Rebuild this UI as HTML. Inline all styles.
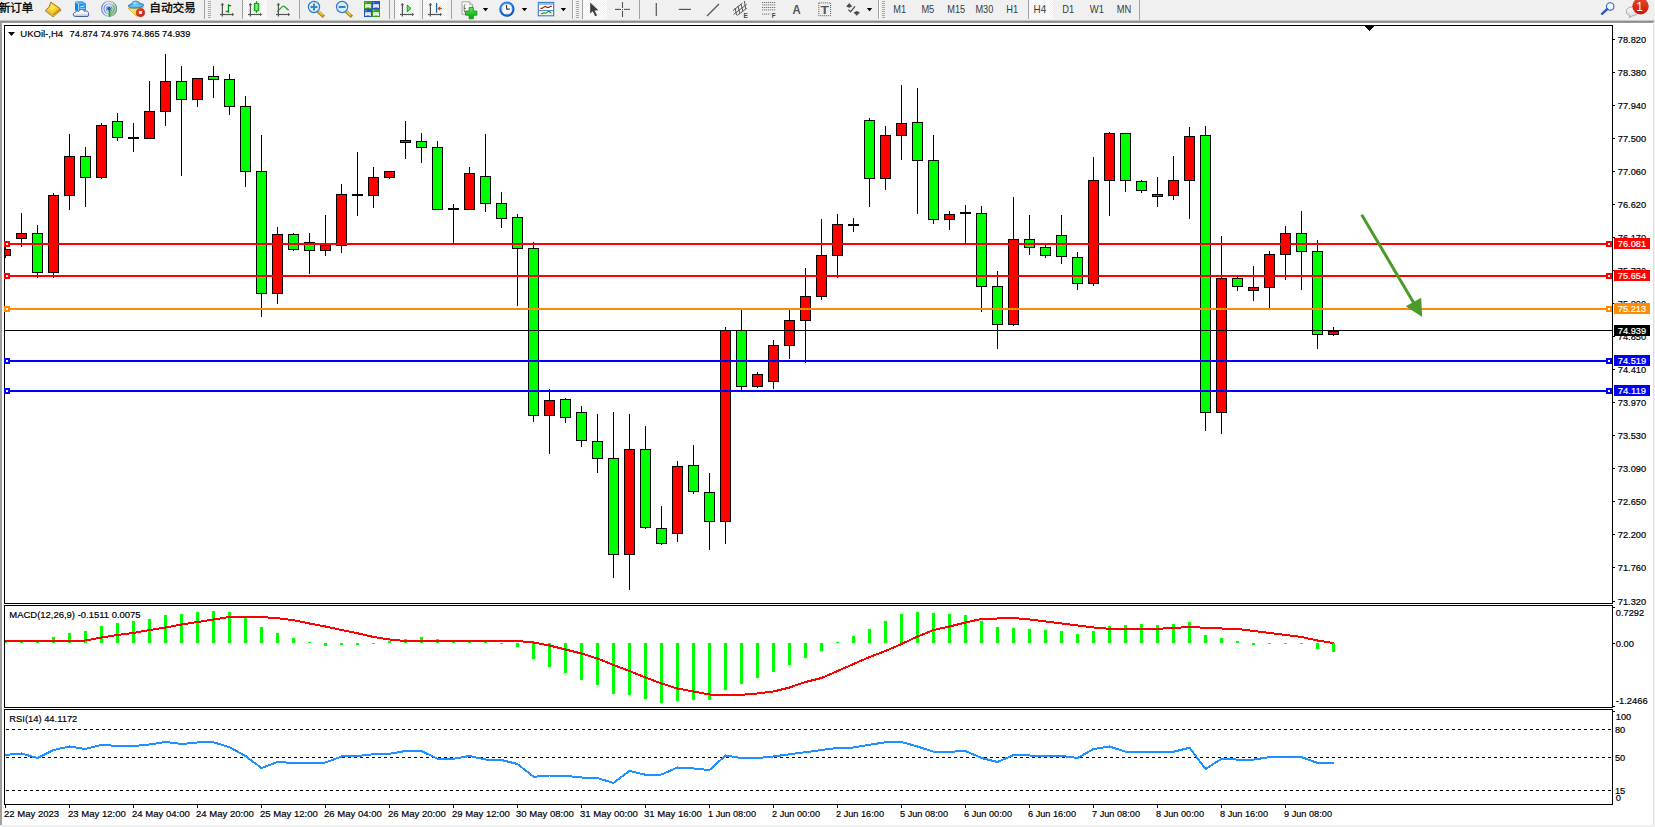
<!DOCTYPE html>
<html><head><meta charset="utf-8"><title>UKOil H4</title>
<style>html,body{margin:0;padding:0;background:#fff;overflow:hidden}svg{display:block}</style></head>
<body>
<svg width="1655" height="827" viewBox="0 0 1655 827" font-family="'Liberation Sans', 'Noto Sans CJK SC', sans-serif">
<rect x="0" y="0" width="1655" height="827" fill="#fff" />
<rect x="0" y="0" width="1655" height="20" fill="#f0f0f0" />
<rect x="0" y="20" width="1655" height="1" fill="#c6c6c6" />
<rect x="0" y="21" width="1655" height="1" fill="#8e8e8e" />
<rect x="0" y="22" width="1655" height="1" fill="#9a9a9a" />
<rect x="0" y="22" width="2" height="803" fill="#a0a0a0" />
<rect x="1653" y="22" width="1" height="803" fill="#dedede" />
<rect x="1654" y="20" width="1" height="805" fill="#f0f0f0" />
<rect x="0" y="825" width="1655" height="2" fill="#f0f0f0" />
<g shape-rendering="crispEdges">
<rect x="4" y="25" width="1609" height="1" fill="#000" />
<rect x="4" y="603" width="1609" height="1" fill="#000" />
<rect x="4" y="25" width="1" height="579" fill="#000" />
<rect x="1612" y="25" width="1" height="579" fill="#000" />
<rect x="4" y="605" width="1609" height="1" fill="#000" />
<rect x="4" y="707" width="1609" height="1" fill="#000" />
<rect x="4" y="605" width="1" height="103" fill="#000" />
<rect x="1612" y="605" width="1" height="103" fill="#000" />
<rect x="4" y="709" width="1609" height="1" fill="#000" />
<rect x="4" y="804" width="1609" height="1" fill="#000" />
<rect x="4" y="709" width="1" height="96" fill="#000" />
<rect x="1612" y="709" width="1" height="96" fill="#000" />
<rect x="5" y="247" width="1" height="11" fill="#000" />
<rect x="5" y="249" width="6" height="7" fill="#000" />
<rect x="5" y="250" width="5" height="5" fill="#ff0000" />
<rect x="21" y="213" width="1" height="34" fill="#000" />
<rect x="16" y="233" width="11" height="6" fill="#000" />
<rect x="17" y="234" width="9" height="4" fill="#ff0000" />
<rect x="37" y="225" width="1" height="53" fill="#000" />
<rect x="32" y="233" width="11" height="40" fill="#000" />
<rect x="33" y="234" width="9" height="38" fill="#00ff00" />
<rect x="53" y="193" width="1" height="85" fill="#000" />
<rect x="48" y="195" width="11" height="78" fill="#000" />
<rect x="49" y="196" width="9" height="76" fill="#ff0000" />
<rect x="69" y="134" width="1" height="76" fill="#000" />
<rect x="64" y="156" width="11" height="40" fill="#000" />
<rect x="65" y="157" width="9" height="38" fill="#ff0000" />
<rect x="85" y="147" width="1" height="60" fill="#000" />
<rect x="80" y="156" width="11" height="22" fill="#000" />
<rect x="81" y="157" width="9" height="20" fill="#00ff00" />
<rect x="101" y="123" width="1" height="56" fill="#000" />
<rect x="96" y="125" width="11" height="53" fill="#000" />
<rect x="97" y="126" width="9" height="51" fill="#ff0000" />
<rect x="117" y="113" width="1" height="28" fill="#000" />
<rect x="112" y="121" width="11" height="17" fill="#000" />
<rect x="113" y="122" width="9" height="15" fill="#00ff00" />
<rect x="133" y="123" width="1" height="29" fill="#000" />
<rect x="128" y="137" width="11" height="2" fill="#000" />
<rect x="149" y="81" width="1" height="58" fill="#000" />
<rect x="144" y="111" width="11" height="28" fill="#000" />
<rect x="145" y="112" width="9" height="26" fill="#ff0000" />
<rect x="165" y="54" width="1" height="72" fill="#000" />
<rect x="160" y="81" width="11" height="31" fill="#000" />
<rect x="161" y="82" width="9" height="29" fill="#ff0000" />
<rect x="181" y="66" width="1" height="110" fill="#000" />
<rect x="176" y="81" width="11" height="19" fill="#000" />
<rect x="177" y="82" width="9" height="17" fill="#00ff00" />
<rect x="197" y="78" width="1" height="29" fill="#000" />
<rect x="192" y="78" width="11" height="22" fill="#000" />
<rect x="193" y="79" width="9" height="20" fill="#ff0000" />
<rect x="213" y="66" width="1" height="32" fill="#000" />
<rect x="208" y="76" width="11" height="4" fill="#000" />
<rect x="209" y="77" width="9" height="2" fill="#00ff00" />
<rect x="229" y="74" width="1" height="41" fill="#000" />
<rect x="224" y="79" width="11" height="28" fill="#000" />
<rect x="225" y="80" width="9" height="26" fill="#00ff00" />
<rect x="245" y="96" width="1" height="91" fill="#000" />
<rect x="240" y="106" width="11" height="66" fill="#000" />
<rect x="241" y="107" width="9" height="64" fill="#00ff00" />
<rect x="261" y="135" width="1" height="182" fill="#000" />
<rect x="256" y="171" width="11" height="123" fill="#000" />
<rect x="257" y="172" width="9" height="121" fill="#00ff00" />
<rect x="277" y="227" width="1" height="77" fill="#000" />
<rect x="272" y="234" width="11" height="60" fill="#000" />
<rect x="273" y="235" width="9" height="58" fill="#ff0000" />
<rect x="293" y="233" width="1" height="18" fill="#000" />
<rect x="288" y="234" width="11" height="16" fill="#000" />
<rect x="289" y="235" width="9" height="14" fill="#00ff00" />
<rect x="309" y="233" width="1" height="41" fill="#000" />
<rect x="304" y="242" width="11" height="9" fill="#000" />
<rect x="305" y="243" width="9" height="7" fill="#00ff00" />
<rect x="325" y="215" width="1" height="41" fill="#000" />
<rect x="320" y="245" width="11" height="6" fill="#000" />
<rect x="321" y="246" width="9" height="4" fill="#ff0000" />
<rect x="341" y="184" width="1" height="69" fill="#000" />
<rect x="336" y="194" width="11" height="52" fill="#000" />
<rect x="337" y="195" width="9" height="50" fill="#ff0000" />
<rect x="357" y="152" width="1" height="64" fill="#000" />
<rect x="352" y="194" width="11" height="2" fill="#000" />
<rect x="373" y="167" width="1" height="41" fill="#000" />
<rect x="368" y="177" width="11" height="19" fill="#000" />
<rect x="369" y="178" width="9" height="17" fill="#ff0000" />
<rect x="389" y="171" width="1" height="8" fill="#000" />
<rect x="384" y="171" width="11" height="7" fill="#000" />
<rect x="385" y="172" width="9" height="5" fill="#ff0000" />
<rect x="405" y="121" width="1" height="38" fill="#000" />
<rect x="400" y="140" width="11" height="3" fill="#000" />
<rect x="401" y="141" width="9" height="1" fill="#ff0000" />
<rect x="421" y="133" width="1" height="30" fill="#000" />
<rect x="416" y="141" width="11" height="7" fill="#000" />
<rect x="417" y="142" width="9" height="5" fill="#00ff00" />
<rect x="437" y="141" width="1" height="69" fill="#000" />
<rect x="432" y="147" width="11" height="63" fill="#000" />
<rect x="433" y="148" width="9" height="61" fill="#00ff00" />
<rect x="453" y="204" width="1" height="40" fill="#000" />
<rect x="448" y="208" width="11" height="2" fill="#000" />
<rect x="469" y="167" width="1" height="43" fill="#000" />
<rect x="464" y="173" width="11" height="37" fill="#000" />
<rect x="465" y="174" width="9" height="35" fill="#ff0000" />
<rect x="485" y="134" width="1" height="78" fill="#000" />
<rect x="480" y="176" width="11" height="28" fill="#000" />
<rect x="481" y="177" width="9" height="26" fill="#00ff00" />
<rect x="501" y="192" width="1" height="36" fill="#000" />
<rect x="496" y="203" width="11" height="16" fill="#000" />
<rect x="497" y="204" width="9" height="14" fill="#00ff00" />
<rect x="517" y="214" width="1" height="92" fill="#000" />
<rect x="512" y="217" width="11" height="32" fill="#000" />
<rect x="513" y="218" width="9" height="30" fill="#00ff00" />
<rect x="533" y="242" width="1" height="180" fill="#000" />
<rect x="528" y="248" width="11" height="168" fill="#000" />
<rect x="529" y="249" width="9" height="166" fill="#00ff00" />
<rect x="549" y="389" width="1" height="65" fill="#000" />
<rect x="544" y="400" width="11" height="16" fill="#000" />
<rect x="545" y="401" width="9" height="14" fill="#ff0000" />
<rect x="565" y="398" width="1" height="25" fill="#000" />
<rect x="560" y="399" width="11" height="19" fill="#000" />
<rect x="561" y="400" width="9" height="17" fill="#00ff00" />
<rect x="581" y="406" width="1" height="41" fill="#000" />
<rect x="576" y="412" width="11" height="29" fill="#000" />
<rect x="577" y="413" width="9" height="27" fill="#00ff00" />
<rect x="597" y="414" width="1" height="59" fill="#000" />
<rect x="592" y="441" width="11" height="18" fill="#000" />
<rect x="593" y="442" width="9" height="16" fill="#00ff00" />
<rect x="613" y="412" width="1" height="166" fill="#000" />
<rect x="608" y="458" width="11" height="97" fill="#000" />
<rect x="609" y="459" width="9" height="95" fill="#00ff00" />
<rect x="629" y="414" width="1" height="176" fill="#000" />
<rect x="624" y="449" width="11" height="106" fill="#000" />
<rect x="625" y="450" width="9" height="104" fill="#ff0000" />
<rect x="645" y="426" width="1" height="103" fill="#000" />
<rect x="640" y="449" width="11" height="79" fill="#000" />
<rect x="641" y="450" width="9" height="77" fill="#00ff00" />
<rect x="661" y="506" width="1" height="39" fill="#000" />
<rect x="656" y="528" width="11" height="16" fill="#000" />
<rect x="657" y="529" width="9" height="14" fill="#00ff00" />
<rect x="677" y="461" width="1" height="81" fill="#000" />
<rect x="672" y="466" width="11" height="68" fill="#000" />
<rect x="673" y="467" width="9" height="66" fill="#ff0000" />
<rect x="693" y="445" width="1" height="49" fill="#000" />
<rect x="688" y="465" width="11" height="27" fill="#000" />
<rect x="689" y="466" width="9" height="25" fill="#00ff00" />
<rect x="709" y="473" width="1" height="77" fill="#000" />
<rect x="704" y="492" width="11" height="30" fill="#000" />
<rect x="705" y="493" width="9" height="28" fill="#00ff00" />
<rect x="725" y="327" width="1" height="217" fill="#000" />
<rect x="720" y="330" width="11" height="192" fill="#000" />
<rect x="721" y="331" width="9" height="190" fill="#ff0000" />
<rect x="741" y="309" width="1" height="82" fill="#000" />
<rect x="736" y="330" width="11" height="57" fill="#000" />
<rect x="737" y="331" width="9" height="55" fill="#00ff00" />
<rect x="757" y="372" width="1" height="16" fill="#000" />
<rect x="752" y="374" width="11" height="13" fill="#000" />
<rect x="753" y="375" width="9" height="11" fill="#ff0000" />
<rect x="773" y="340" width="1" height="49" fill="#000" />
<rect x="768" y="345" width="11" height="37" fill="#000" />
<rect x="769" y="346" width="9" height="35" fill="#ff0000" />
<rect x="789" y="309" width="1" height="50" fill="#000" />
<rect x="784" y="320" width="11" height="26" fill="#000" />
<rect x="785" y="321" width="9" height="24" fill="#ff0000" />
<rect x="805" y="268" width="1" height="95" fill="#000" />
<rect x="800" y="296" width="11" height="25" fill="#000" />
<rect x="801" y="297" width="9" height="23" fill="#ff0000" />
<rect x="821" y="219" width="1" height="81" fill="#000" />
<rect x="816" y="255" width="11" height="42" fill="#000" />
<rect x="817" y="256" width="9" height="40" fill="#ff0000" />
<rect x="837" y="214" width="1" height="64" fill="#000" />
<rect x="832" y="224" width="11" height="32" fill="#000" />
<rect x="833" y="225" width="9" height="30" fill="#ff0000" />
<rect x="853" y="218" width="1" height="14" fill="#000" />
<rect x="848" y="224" width="11" height="2" fill="#000" />
<rect x="869" y="118" width="1" height="89" fill="#000" />
<rect x="864" y="120" width="11" height="59" fill="#000" />
<rect x="865" y="121" width="9" height="57" fill="#00ff00" />
<rect x="885" y="126" width="1" height="64" fill="#000" />
<rect x="880" y="135" width="11" height="44" fill="#000" />
<rect x="881" y="136" width="9" height="42" fill="#ff0000" />
<rect x="901" y="85" width="1" height="75" fill="#000" />
<rect x="896" y="123" width="11" height="13" fill="#000" />
<rect x="897" y="124" width="9" height="11" fill="#ff0000" />
<rect x="917" y="88" width="1" height="126" fill="#000" />
<rect x="912" y="122" width="11" height="39" fill="#000" />
<rect x="913" y="123" width="9" height="37" fill="#00ff00" />
<rect x="933" y="135" width="1" height="89" fill="#000" />
<rect x="928" y="160" width="11" height="60" fill="#000" />
<rect x="929" y="161" width="9" height="58" fill="#00ff00" />
<rect x="949" y="211" width="1" height="19" fill="#000" />
<rect x="944" y="214" width="11" height="6" fill="#000" />
<rect x="945" y="215" width="9" height="4" fill="#ff0000" />
<rect x="965" y="205" width="1" height="38" fill="#000" />
<rect x="960" y="212" width="11" height="2" fill="#000" />
<rect x="981" y="206" width="1" height="106" fill="#000" />
<rect x="976" y="213" width="11" height="74" fill="#000" />
<rect x="977" y="214" width="9" height="72" fill="#00ff00" />
<rect x="997" y="271" width="1" height="78" fill="#000" />
<rect x="992" y="286" width="11" height="39" fill="#000" />
<rect x="993" y="287" width="9" height="37" fill="#00ff00" />
<rect x="1013" y="197" width="1" height="129" fill="#000" />
<rect x="1008" y="239" width="11" height="86" fill="#000" />
<rect x="1009" y="240" width="9" height="84" fill="#ff0000" />
<rect x="1029" y="215" width="1" height="40" fill="#000" />
<rect x="1024" y="239" width="11" height="9" fill="#000" />
<rect x="1025" y="240" width="9" height="7" fill="#00ff00" />
<rect x="1045" y="245" width="1" height="13" fill="#000" />
<rect x="1040" y="247" width="11" height="9" fill="#000" />
<rect x="1041" y="248" width="9" height="7" fill="#00ff00" />
<rect x="1061" y="215" width="1" height="49" fill="#000" />
<rect x="1056" y="235" width="11" height="22" fill="#000" />
<rect x="1057" y="236" width="9" height="20" fill="#00ff00" />
<rect x="1077" y="252" width="1" height="38" fill="#000" />
<rect x="1072" y="257" width="11" height="27" fill="#000" />
<rect x="1073" y="258" width="9" height="25" fill="#00ff00" />
<rect x="1093" y="157" width="1" height="129" fill="#000" />
<rect x="1088" y="180" width="11" height="104" fill="#000" />
<rect x="1089" y="181" width="9" height="102" fill="#ff0000" />
<rect x="1109" y="132" width="1" height="84" fill="#000" />
<rect x="1104" y="133" width="11" height="48" fill="#000" />
<rect x="1105" y="134" width="9" height="46" fill="#ff0000" />
<rect x="1125" y="133" width="1" height="59" fill="#000" />
<rect x="1120" y="133" width="11" height="48" fill="#000" />
<rect x="1121" y="134" width="9" height="46" fill="#00ff00" />
<rect x="1141" y="180" width="1" height="13" fill="#000" />
<rect x="1136" y="181" width="11" height="10" fill="#000" />
<rect x="1137" y="182" width="9" height="8" fill="#00ff00" />
<rect x="1157" y="177" width="1" height="30" fill="#000" />
<rect x="1152" y="194" width="11" height="3" fill="#000" />
<rect x="1153" y="195" width="9" height="1" fill="#ff0000" />
<rect x="1173" y="156" width="1" height="44" fill="#000" />
<rect x="1168" y="180" width="11" height="16" fill="#000" />
<rect x="1169" y="181" width="9" height="14" fill="#ff0000" />
<rect x="1189" y="127" width="1" height="92" fill="#000" />
<rect x="1184" y="136" width="11" height="45" fill="#000" />
<rect x="1185" y="137" width="9" height="43" fill="#ff0000" />
<rect x="1205" y="126" width="1" height="305" fill="#000" />
<rect x="1200" y="135" width="11" height="278" fill="#000" />
<rect x="1201" y="136" width="9" height="276" fill="#00ff00" />
<rect x="1221" y="236" width="1" height="198" fill="#000" />
<rect x="1216" y="278" width="11" height="135" fill="#000" />
<rect x="1217" y="279" width="9" height="133" fill="#ff0000" />
<rect x="1237" y="276" width="1" height="15" fill="#000" />
<rect x="1232" y="278" width="11" height="9" fill="#000" />
<rect x="1233" y="279" width="9" height="7" fill="#00ff00" />
<rect x="1253" y="266" width="1" height="35" fill="#000" />
<rect x="1248" y="287" width="11" height="4" fill="#000" />
<rect x="1249" y="288" width="9" height="2" fill="#ff0000" />
<rect x="1269" y="251" width="1" height="57" fill="#000" />
<rect x="1264" y="254" width="11" height="34" fill="#000" />
<rect x="1265" y="255" width="9" height="32" fill="#ff0000" />
<rect x="1285" y="226" width="1" height="54" fill="#000" />
<rect x="1280" y="233" width="11" height="22" fill="#000" />
<rect x="1281" y="234" width="9" height="20" fill="#ff0000" />
<rect x="1301" y="211" width="1" height="79" fill="#000" />
<rect x="1296" y="233" width="11" height="19" fill="#000" />
<rect x="1297" y="234" width="9" height="17" fill="#00ff00" />
<rect x="1317" y="240" width="1" height="109" fill="#000" />
<rect x="1312" y="251" width="11" height="84" fill="#000" />
<rect x="1313" y="252" width="9" height="82" fill="#00ff00" />
<rect x="1333" y="327" width="1" height="9" fill="#000" />
<rect x="1328" y="331" width="11" height="4" fill="#000" />
<rect x="1329" y="332" width="9" height="2" fill="#ff0000" />
<rect x="5" y="243" width="1607" height="2" fill="#ff0000" />
<rect x="4" y="241" width="6" height="6" fill="#ff0000" />
<rect x="6" y="243" width="2" height="2" fill="#fff" />
<rect x="1606" y="241" width="6" height="6" fill="#ff0000" />
<rect x="1608" y="243" width="2" height="2" fill="#fff" />
<rect x="5" y="275" width="1607" height="2" fill="#ff0000" />
<rect x="4" y="273" width="6" height="6" fill="#ff0000" />
<rect x="6" y="275" width="2" height="2" fill="#fff" />
<rect x="1606" y="273" width="6" height="6" fill="#ff0000" />
<rect x="1608" y="275" width="2" height="2" fill="#fff" />
<rect x="5" y="308" width="1607" height="2" fill="#ff8c00" />
<rect x="4" y="306" width="6" height="6" fill="#ff8c00" />
<rect x="6" y="308" width="2" height="2" fill="#fff" />
<rect x="1606" y="306" width="6" height="6" fill="#ff8c00" />
<rect x="1608" y="308" width="2" height="2" fill="#fff" />
<rect x="5" y="330" width="1607" height="1" fill="#000" />
<rect x="5" y="360" width="1607" height="2" fill="#0000ff" />
<rect x="4" y="358" width="6" height="6" fill="#0000ff" />
<rect x="6" y="360" width="2" height="2" fill="#fff" />
<rect x="1606" y="358" width="6" height="6" fill="#0000ff" />
<rect x="1608" y="360" width="2" height="2" fill="#fff" />
<rect x="5" y="390" width="1607" height="2" fill="#0000ff" />
<rect x="4" y="388" width="6" height="6" fill="#0000ff" />
<rect x="6" y="390" width="2" height="2" fill="#fff" />
<rect x="1606" y="388" width="6" height="6" fill="#0000ff" />
<rect x="1608" y="390" width="2" height="2" fill="#fff" />
<polygon points="1364.2,26 1374.8,26 1369.5,31.2" fill="#000"/>
<rect x="5" y="640" width="2" height="3" fill="#00ff00" />
<rect x="20" y="641" width="3" height="2" fill="#00ff00" />
<rect x="36" y="642" width="3" height="1" fill="#00ff00" />
<rect x="52" y="637" width="3" height="6" fill="#00ff00" />
<rect x="68" y="633" width="3" height="10" fill="#00ff00" />
<rect x="84" y="631" width="3" height="12" fill="#00ff00" />
<rect x="100" y="626" width="3" height="17" fill="#00ff00" />
<rect x="116" y="623" width="3" height="20" fill="#00ff00" />
<rect x="132" y="621" width="3" height="22" fill="#00ff00" />
<rect x="148" y="619" width="3" height="24" fill="#00ff00" />
<rect x="164" y="615" width="3" height="28" fill="#00ff00" />
<rect x="180" y="614" width="3" height="29" fill="#00ff00" />
<rect x="196" y="612" width="3" height="31" fill="#00ff00" />
<rect x="212" y="611" width="3" height="32" fill="#00ff00" />
<rect x="228" y="612" width="3" height="31" fill="#00ff00" />
<rect x="244" y="617" width="3" height="26" fill="#00ff00" />
<rect x="260" y="627" width="3" height="16" fill="#00ff00" />
<rect x="276" y="633" width="3" height="10" fill="#00ff00" />
<rect x="292" y="638" width="3" height="5" fill="#00ff00" />
<rect x="308" y="642" width="3" height="1" fill="#00ff00" />
<rect x="324" y="643" width="3" height="3" fill="#00ff00" />
<rect x="340" y="643" width="3" height="2" fill="#00ff00" />
<rect x="356" y="643" width="3" height="2" fill="#00ff00" />
<rect x="372" y="643" width="3" height="1" fill="#00ff00" />
<rect x="388" y="641" width="3" height="2" fill="#00ff00" />
<rect x="404" y="639" width="3" height="4" fill="#00ff00" />
<rect x="420" y="637" width="3" height="6" fill="#00ff00" />
<rect x="436" y="639" width="3" height="4" fill="#00ff00" />
<rect x="452" y="642" width="3" height="1" fill="#00ff00" />
<rect x="468" y="642" width="3" height="1" fill="#00ff00" />
<rect x="484" y="642" width="3" height="1" fill="#00ff00" />
<rect x="500" y="643" width="3" height="1" fill="#00ff00" />
<rect x="516" y="643" width="3" height="4" fill="#00ff00" />
<rect x="532" y="643" width="3" height="16" fill="#00ff00" />
<rect x="548" y="643" width="3" height="24" fill="#00ff00" />
<rect x="564" y="643" width="3" height="30" fill="#00ff00" />
<rect x="580" y="643" width="3" height="37" fill="#00ff00" />
<rect x="596" y="643" width="3" height="42" fill="#00ff00" />
<rect x="612" y="643" width="3" height="51" fill="#00ff00" />
<rect x="628" y="643" width="3" height="52" fill="#00ff00" />
<rect x="644" y="643" width="3" height="56" fill="#00ff00" />
<rect x="660" y="643" width="3" height="60" fill="#00ff00" />
<rect x="676" y="643" width="3" height="58" fill="#00ff00" />
<rect x="692" y="643" width="3" height="57" fill="#00ff00" />
<rect x="708" y="643" width="3" height="57" fill="#00ff00" />
<rect x="724" y="643" width="3" height="47" fill="#00ff00" />
<rect x="740" y="643" width="3" height="41" fill="#00ff00" />
<rect x="756" y="643" width="3" height="35" fill="#00ff00" />
<rect x="772" y="643" width="3" height="29" fill="#00ff00" />
<rect x="788" y="643" width="3" height="22" fill="#00ff00" />
<rect x="804" y="643" width="3" height="15" fill="#00ff00" />
<rect x="820" y="643" width="3" height="8" fill="#00ff00" />
<rect x="836" y="642" width="3" height="1" fill="#00ff00" />
<rect x="852" y="636" width="3" height="7" fill="#00ff00" />
<rect x="868" y="629" width="3" height="14" fill="#00ff00" />
<rect x="884" y="621" width="3" height="22" fill="#00ff00" />
<rect x="900" y="614" width="3" height="29" fill="#00ff00" />
<rect x="916" y="612" width="3" height="31" fill="#00ff00" />
<rect x="932" y="613" width="3" height="30" fill="#00ff00" />
<rect x="948" y="614" width="3" height="29" fill="#00ff00" />
<rect x="964" y="615" width="3" height="28" fill="#00ff00" />
<rect x="980" y="621" width="3" height="22" fill="#00ff00" />
<rect x="996" y="627" width="3" height="16" fill="#00ff00" />
<rect x="1012" y="628" width="3" height="15" fill="#00ff00" />
<rect x="1028" y="629" width="3" height="14" fill="#00ff00" />
<rect x="1044" y="630" width="3" height="13" fill="#00ff00" />
<rect x="1060" y="631" width="3" height="12" fill="#00ff00" />
<rect x="1076" y="634" width="3" height="9" fill="#00ff00" />
<rect x="1092" y="631" width="3" height="12" fill="#00ff00" />
<rect x="1108" y="626" width="3" height="17" fill="#00ff00" />
<rect x="1124" y="625" width="3" height="18" fill="#00ff00" />
<rect x="1140" y="624" width="3" height="19" fill="#00ff00" />
<rect x="1156" y="625" width="3" height="18" fill="#00ff00" />
<rect x="1172" y="624" width="3" height="19" fill="#00ff00" />
<rect x="1188" y="622" width="3" height="21" fill="#00ff00" />
<rect x="1204" y="635" width="3" height="8" fill="#00ff00" />
<rect x="1220" y="638" width="3" height="5" fill="#00ff00" />
<rect x="1236" y="641" width="3" height="2" fill="#00ff00" />
<rect x="1252" y="643" width="3" height="2" fill="#00ff00" />
<rect x="1268" y="643" width="3" height="1" fill="#00ff00" />
<rect x="1284" y="643" width="3" height="1" fill="#00ff00" />
<rect x="1300" y="643" width="3" height="1" fill="#00ff00" />
<rect x="1316" y="643" width="3" height="6" fill="#00ff00" />
<rect x="1332" y="643" width="3" height="9" fill="#00ff00" />
</g>
<polyline points="5,640.75 21.5,640.75 37.5,641 53.5,641 69.5,641 85.5,640.5 101.5,637.5 117.5,635 133.5,633 149.5,630 165.5,627.5 181.5,624.5 197.5,622 213.5,619.5 229.5,617 245.5,616.75 261.5,617 277.5,618.25 293.5,620.25 309.5,623.5 325.5,626.5 341.5,630 357.5,633.25 373.5,637 389.5,639.5 405.5,641 421.5,641 437.5,641 453.5,641 469.5,641 485.5,641 501.5,641 517.5,641 533.5,642.5 549.5,645.5 565.5,649.5 581.5,653.5 597.5,658.5 613.5,665 629.5,671 645.5,677.5 661.5,683.5 677.5,688.5 693.5,691.5 709.5,694.5 725.5,694.75 741.5,694.75 757.5,693.5 773.5,691.5 789.5,687.5 805.5,682 821.5,678 837.5,671 853.5,664 869.5,657 885.5,651 901.5,644 917.5,636.5 933.5,630 949.5,626.5 965.5,622.5 981.5,619 997.5,618.5 1013.5,618 1029.5,619.5 1045.5,621.5 1061.5,623.5 1077.5,625.5 1093.5,627.5 1109.5,628.75 1125.5,628.75 1141.5,628.75 1157.5,628.75 1173.5,628 1189.5,627 1205.5,627.75 1221.5,628.5 1237.5,629 1253.5,631 1269.5,633 1285.5,635 1301.5,637 1317.5,640.5 1333.5,643" fill="none" stroke="#ff0000" stroke-width="2" stroke-linejoin="round" shape-rendering="crispEdges"/>
<g shape-rendering="crispEdges">
<line x1="6" y1="729.5" x2="1612" y2="729.5" stroke="#000" stroke-width="1" stroke-dasharray="3 3"/>
<line x1="6" y1="757.5" x2="1612" y2="757.5" stroke="#000" stroke-width="1" stroke-dasharray="3 3"/>
<line x1="6" y1="790.5" x2="1612" y2="790.5" stroke="#000" stroke-width="1" stroke-dasharray="3 3"/>
</g>
<polyline points="5,755 21.5,753.5 37.5,758 53.5,750 69.5,746.5 85.5,749 101.5,744.75 117.5,746 133.5,746 149.5,744.5 165.5,742 181.5,744 197.5,742.5 213.5,742.25 229.5,747.25 245.5,756 261.5,768 277.5,762 293.5,763 309.5,763 325.5,762.5 341.5,756.5 357.5,756 373.5,754.25 389.5,753.75 405.5,751 421.5,751 437.5,758.75 453.5,758.75 469.5,756 485.5,759.5 501.5,760 517.5,764 533.5,776.75 549.5,775.5 565.5,775.75 581.5,777.5 597.5,778 613.5,783 629.5,771 645.5,774.75 661.5,774.5 677.5,767.5 693.5,768.5 709.5,770 725.5,755.5 741.5,758 757.5,758 773.5,756.5 789.5,754.25 805.5,752.25 821.5,750 837.5,748 853.5,747.5 869.5,744.75 885.5,742.25 901.5,742 917.5,746.5 933.5,751.75 949.5,751.75 965.5,751 981.5,758 997.5,762 1013.5,755 1029.5,755.5 1045.5,756 1061.5,756 1077.5,758 1093.5,749 1109.5,746.5 1125.5,751.75 1141.5,751.75 1157.5,751.75 1173.5,751.75 1189.5,747.75 1205.5,769 1221.5,758.8 1237.5,759.6 1253.5,759.6 1269.5,757.1 1285.5,756.9 1301.5,757.1 1317.5,762.9 1333.5,762.9" fill="none" stroke="#1e90ff" stroke-width="2" stroke-linejoin="round" shape-rendering="crispEdges"/>
<line x1="1361.7" y1="214.8" x2="1415" y2="305" stroke="#4c9a2a" stroke-width="3"/>
<polygon points="1422.2,317 1405.8,306.3 1421.2,297.8" fill="#4c9a2a"/>
<polygon points="8,32 15,32 11.5,36" fill="#000"/>
<text x="20.3" y="37" fill="#000" stroke="#000" stroke-width="0.2" font-size="9.9" text-anchor="start" textLength="42.8" lengthAdjust="spacingAndGlyphs" id="t_title">UKOil-,H4</text>
<text x="69.6" y="37" fill="#000" stroke="#000" stroke-width="0.2" font-size="9.9" text-anchor="start" textLength="120.8" lengthAdjust="spacingAndGlyphs" >74.874 74.976 74.865 74.939</text>
<text x="9.3" y="618.3" fill="#000" stroke="#000" stroke-width="0.2" font-size="9.9" text-anchor="start" textLength="131.3" lengthAdjust="spacingAndGlyphs" id="t_macd">MACD(12,26,9) -0.1511 0.0075</text>
<text x="9.3" y="721.8" fill="#000" stroke="#000" stroke-width="0.2" font-size="9.9" text-anchor="start" textLength="68" lengthAdjust="spacingAndGlyphs" id="t_rsi">RSI(14) 44.1172</text>
<g shape-rendering="crispEdges">
<rect x="1613" y="39" width="2" height="1" fill="#000" />
<rect x="1613" y="72" width="2" height="1" fill="#000" />
<rect x="1613" y="105" width="2" height="1" fill="#000" />
<rect x="1613" y="138" width="2" height="1" fill="#000" />
<rect x="1613" y="171" width="2" height="1" fill="#000" />
<rect x="1613" y="204" width="2" height="1" fill="#000" />
<rect x="1613" y="237" width="2" height="1" fill="#000" />
<rect x="1613" y="270" width="2" height="1" fill="#000" />
<rect x="1613" y="303" width="2" height="1" fill="#000" />
<rect x="1613" y="336" width="2" height="1" fill="#000" />
<rect x="1613" y="369" width="2" height="1" fill="#000" />
<rect x="1613" y="402" width="2" height="1" fill="#000" />
<rect x="1613" y="435" width="2" height="1" fill="#000" />
<rect x="1613" y="468" width="2" height="1" fill="#000" />
<rect x="1613" y="501" width="2" height="1" fill="#000" />
<rect x="1613" y="534" width="2" height="1" fill="#000" />
<rect x="1613" y="567" width="2" height="1" fill="#000" />
<rect x="1613" y="601" width="2" height="1" fill="#000" />
</g>
<text x="1617.8" y="43.0" fill="#000" stroke="#000" stroke-width="0.2" font-size="9.9" text-anchor="start" textLength="28.3" lengthAdjust="spacingAndGlyphs" class="pr">78.820</text>
<text x="1617.8" y="76.0" fill="#000" stroke="#000" stroke-width="0.2" font-size="9.9" text-anchor="start" textLength="28.3" lengthAdjust="spacingAndGlyphs" class="pr">78.380</text>
<text x="1617.8" y="109.0" fill="#000" stroke="#000" stroke-width="0.2" font-size="9.9" text-anchor="start" textLength="28.3" lengthAdjust="spacingAndGlyphs" class="pr">77.940</text>
<text x="1617.8" y="142.0" fill="#000" stroke="#000" stroke-width="0.2" font-size="9.9" text-anchor="start" textLength="28.3" lengthAdjust="spacingAndGlyphs" class="pr">77.500</text>
<text x="1617.8" y="175.0" fill="#000" stroke="#000" stroke-width="0.2" font-size="9.9" text-anchor="start" textLength="28.3" lengthAdjust="spacingAndGlyphs" class="pr">77.060</text>
<text x="1617.8" y="208.0" fill="#000" stroke="#000" stroke-width="0.2" font-size="9.9" text-anchor="start" textLength="28.3" lengthAdjust="spacingAndGlyphs" class="pr">76.620</text>
<text x="1617.8" y="241.0" fill="#000" stroke="#000" stroke-width="0.2" font-size="9.9" text-anchor="start" textLength="28.3" lengthAdjust="spacingAndGlyphs" class="pr">76.170</text>
<text x="1617.8" y="274.0" fill="#000" stroke="#000" stroke-width="0.2" font-size="9.9" text-anchor="start" textLength="28.3" lengthAdjust="spacingAndGlyphs" class="pr">75.730</text>
<text x="1617.8" y="307.0" fill="#000" stroke="#000" stroke-width="0.2" font-size="9.9" text-anchor="start" textLength="28.3" lengthAdjust="spacingAndGlyphs" class="pr">75.290</text>
<text x="1617.8" y="340.0" fill="#000" stroke="#000" stroke-width="0.2" font-size="9.9" text-anchor="start" textLength="28.3" lengthAdjust="spacingAndGlyphs" class="pr">74.850</text>
<text x="1617.8" y="373.0" fill="#000" stroke="#000" stroke-width="0.2" font-size="9.9" text-anchor="start" textLength="28.3" lengthAdjust="spacingAndGlyphs" class="pr">74.410</text>
<text x="1617.8" y="406.0" fill="#000" stroke="#000" stroke-width="0.2" font-size="9.9" text-anchor="start" textLength="28.3" lengthAdjust="spacingAndGlyphs" class="pr">73.970</text>
<text x="1617.8" y="439.0" fill="#000" stroke="#000" stroke-width="0.2" font-size="9.9" text-anchor="start" textLength="28.3" lengthAdjust="spacingAndGlyphs" class="pr">73.530</text>
<text x="1617.8" y="472.0" fill="#000" stroke="#000" stroke-width="0.2" font-size="9.9" text-anchor="start" textLength="28.3" lengthAdjust="spacingAndGlyphs" class="pr">73.090</text>
<text x="1617.8" y="505.0" fill="#000" stroke="#000" stroke-width="0.2" font-size="9.9" text-anchor="start" textLength="28.3" lengthAdjust="spacingAndGlyphs" class="pr">72.650</text>
<text x="1617.8" y="538.0" fill="#000" stroke="#000" stroke-width="0.2" font-size="9.9" text-anchor="start" textLength="28.3" lengthAdjust="spacingAndGlyphs" class="pr">72.200</text>
<text x="1617.8" y="571.0" fill="#000" stroke="#000" stroke-width="0.2" font-size="9.9" text-anchor="start" textLength="28.3" lengthAdjust="spacingAndGlyphs" class="pr">71.760</text>
<text x="1617.8" y="605.0" fill="#000" stroke="#000" stroke-width="0.2" font-size="9.9" text-anchor="start" textLength="28.3" lengthAdjust="spacingAndGlyphs" class="pr">71.320</text>
<rect x="1614" y="238" width="36" height="11" fill="#ff0000" shape-rendering="crispEdges"/>
<text x="1617.8" y="247.2" fill="#fff" stroke="#fff" stroke-width="0.2" font-size="9.9" text-anchor="start" textLength="28.3" lengthAdjust="spacingAndGlyphs" class="pr">76.081</text>
<rect x="1614" y="270" width="36" height="11" fill="#ff0000" shape-rendering="crispEdges"/>
<text x="1617.8" y="279.2" fill="#fff" stroke="#fff" stroke-width="0.2" font-size="9.9" text-anchor="start" textLength="28.3" lengthAdjust="spacingAndGlyphs" class="pr">75.654</text>
<rect x="1614" y="303" width="36" height="11" fill="#ff8c00" shape-rendering="crispEdges"/>
<text x="1617.8" y="312.2" fill="#fff" stroke="#fff" stroke-width="0.2" font-size="9.9" text-anchor="start" textLength="28.3" lengthAdjust="spacingAndGlyphs" class="pr">75.213</text>
<rect x="1614" y="325" width="36" height="11" fill="#000" shape-rendering="crispEdges"/>
<text x="1617.8" y="334.2" fill="#fff" stroke="#fff" stroke-width="0.2" font-size="9.9" text-anchor="start" textLength="28.3" lengthAdjust="spacingAndGlyphs" class="pr">74.939</text>
<rect x="1614" y="355" width="36" height="11" fill="#0000ff" shape-rendering="crispEdges"/>
<text x="1617.8" y="364.2" fill="#fff" stroke="#fff" stroke-width="0.2" font-size="9.9" text-anchor="start" textLength="28.3" lengthAdjust="spacingAndGlyphs" class="pr">74.519</text>
<rect x="1614" y="385" width="36" height="11" fill="#0000ff" shape-rendering="crispEdges"/>
<text x="1617.8" y="394.2" fill="#fff" stroke="#fff" stroke-width="0.2" font-size="9.9" text-anchor="start" textLength="28.3" lengthAdjust="spacingAndGlyphs" class="pr">74.119</text>
<text x="1615.8" y="615.9" fill="#000" stroke="#000" stroke-width="0.2" font-size="9.9" text-anchor="start" textLength="28.4" lengthAdjust="spacingAndGlyphs" >0.7292</text>
<rect x="1613" y="607" width="2" height="1" fill="#000" shape-rendering="crispEdges"/>
<rect x="1613" y="643" width="2" height="1" fill="#000" shape-rendering="crispEdges"/>
<rect x="1613" y="706" width="2" height="1" fill="#000" shape-rendering="crispEdges"/>
<rect x="1613" y="711" width="2" height="1" fill="#000" shape-rendering="crispEdges"/>
<text x="1615.8" y="647" fill="#000" stroke="#000" stroke-width="0.2" font-size="9.9" text-anchor="start" textLength="18.2" lengthAdjust="spacingAndGlyphs" >0.00</text>
<text x="1615.8" y="704" fill="#000" stroke="#000" stroke-width="0.2" font-size="9.9" text-anchor="start" textLength="31.8" lengthAdjust="spacingAndGlyphs" >-1.2466</text>
<text x="1615.8" y="719.8" fill="#000" stroke="#000" stroke-width="0.2" font-size="9.9" text-anchor="start" textLength="15.4" lengthAdjust="spacingAndGlyphs" >100</text>
<text x="1614.9" y="733" fill="#000" stroke="#000" stroke-width="0.2" font-size="9.9" text-anchor="start" textLength="10.3" lengthAdjust="spacingAndGlyphs" >80</text>
<text x="1614.9" y="761" fill="#000" stroke="#000" stroke-width="0.2" font-size="9.9" text-anchor="start" textLength="10.3" lengthAdjust="spacingAndGlyphs" >50</text>
<text x="1614.9" y="794" fill="#000" stroke="#000" stroke-width="0.2" font-size="9.9" text-anchor="start" textLength="10.3" lengthAdjust="spacingAndGlyphs" >15</text>
<text x="1615.7" y="801" fill="#000" stroke="#000" stroke-width="0.2" font-size="9.9" text-anchor="start" textLength="5.2" lengthAdjust="spacingAndGlyphs" >0</text>
<g shape-rendering="crispEdges">
<rect x="5" y="805" width="1" height="3" fill="#000" />
<rect x="69" y="805" width="1" height="3" fill="#000" />
<rect x="133" y="805" width="1" height="3" fill="#000" />
<rect x="197" y="805" width="1" height="3" fill="#000" />
<rect x="261" y="805" width="1" height="3" fill="#000" />
<rect x="325" y="805" width="1" height="3" fill="#000" />
<rect x="389" y="805" width="1" height="3" fill="#000" />
<rect x="453" y="805" width="1" height="3" fill="#000" />
<rect x="517" y="805" width="1" height="3" fill="#000" />
<rect x="581" y="805" width="1" height="3" fill="#000" />
<rect x="645" y="805" width="1" height="3" fill="#000" />
<rect x="709" y="805" width="1" height="3" fill="#000" />
<rect x="773" y="805" width="1" height="3" fill="#000" />
<rect x="837" y="805" width="1" height="3" fill="#000" />
<rect x="901" y="805" width="1" height="3" fill="#000" />
<rect x="965" y="805" width="1" height="3" fill="#000" />
<rect x="1029" y="805" width="1" height="3" fill="#000" />
<rect x="1093" y="805" width="1" height="3" fill="#000" />
<rect x="1157" y="805" width="1" height="3" fill="#000" />
<rect x="1221" y="805" width="1" height="3" fill="#000" />
<rect x="1285" y="805" width="1" height="3" fill="#000" />
</g>
<text x="4" y="817" fill="#000" stroke="#000" stroke-width="0.2" font-size="9.9" text-anchor="start" textLength="55.1" lengthAdjust="spacingAndGlyphs" class="dt">22 May 2023</text>
<text x="68" y="817" fill="#000" stroke="#000" stroke-width="0.2" font-size="9.9" text-anchor="start" textLength="57.8" lengthAdjust="spacingAndGlyphs" class="dt">23 May 12:00</text>
<text x="132" y="817" fill="#000" stroke="#000" stroke-width="0.2" font-size="9.9" text-anchor="start" textLength="57.8" lengthAdjust="spacingAndGlyphs" class="dt">24 May 04:00</text>
<text x="196" y="817" fill="#000" stroke="#000" stroke-width="0.2" font-size="9.9" text-anchor="start" textLength="57.8" lengthAdjust="spacingAndGlyphs" class="dt">24 May 20:00</text>
<text x="260" y="817" fill="#000" stroke="#000" stroke-width="0.2" font-size="9.9" text-anchor="start" textLength="57.8" lengthAdjust="spacingAndGlyphs" class="dt">25 May 12:00</text>
<text x="324" y="817" fill="#000" stroke="#000" stroke-width="0.2" font-size="9.9" text-anchor="start" textLength="57.8" lengthAdjust="spacingAndGlyphs" class="dt">26 May 04:00</text>
<text x="388" y="817" fill="#000" stroke="#000" stroke-width="0.2" font-size="9.9" text-anchor="start" textLength="57.8" lengthAdjust="spacingAndGlyphs" class="dt">26 May 20:00</text>
<text x="452" y="817" fill="#000" stroke="#000" stroke-width="0.2" font-size="9.9" text-anchor="start" textLength="57.8" lengthAdjust="spacingAndGlyphs" class="dt">29 May 12:00</text>
<text x="516" y="817" fill="#000" stroke="#000" stroke-width="0.2" font-size="9.9" text-anchor="start" textLength="57.8" lengthAdjust="spacingAndGlyphs" class="dt">30 May 08:00</text>
<text x="580" y="817" fill="#000" stroke="#000" stroke-width="0.2" font-size="9.9" text-anchor="start" textLength="57.8" lengthAdjust="spacingAndGlyphs" class="dt">31 May 00:00</text>
<text x="644" y="817" fill="#000" stroke="#000" stroke-width="0.2" font-size="9.9" text-anchor="start" textLength="57.8" lengthAdjust="spacingAndGlyphs" class="dt">31 May 16:00</text>
<text x="708" y="817" fill="#000" stroke="#000" stroke-width="0.2" font-size="9.9" text-anchor="start" textLength="48.0" lengthAdjust="spacingAndGlyphs" class="dt">1 Jun 08:00</text>
<text x="772" y="817" fill="#000" stroke="#000" stroke-width="0.2" font-size="9.9" text-anchor="start" textLength="48.0" lengthAdjust="spacingAndGlyphs" class="dt">2 Jun 00:00</text>
<text x="836" y="817" fill="#000" stroke="#000" stroke-width="0.2" font-size="9.9" text-anchor="start" textLength="48.0" lengthAdjust="spacingAndGlyphs" class="dt">2 Jun 16:00</text>
<text x="900" y="817" fill="#000" stroke="#000" stroke-width="0.2" font-size="9.9" text-anchor="start" textLength="48.0" lengthAdjust="spacingAndGlyphs" class="dt">5 Jun 08:00</text>
<text x="964" y="817" fill="#000" stroke="#000" stroke-width="0.2" font-size="9.9" text-anchor="start" textLength="48.0" lengthAdjust="spacingAndGlyphs" class="dt">6 Jun 00:00</text>
<text x="1028" y="817" fill="#000" stroke="#000" stroke-width="0.2" font-size="9.9" text-anchor="start" textLength="48.0" lengthAdjust="spacingAndGlyphs" class="dt">6 Jun 16:00</text>
<text x="1092" y="817" fill="#000" stroke="#000" stroke-width="0.2" font-size="9.9" text-anchor="start" textLength="48.0" lengthAdjust="spacingAndGlyphs" class="dt">7 Jun 08:00</text>
<text x="1156" y="817" fill="#000" stroke="#000" stroke-width="0.2" font-size="9.9" text-anchor="start" textLength="48.0" lengthAdjust="spacingAndGlyphs" class="dt">8 Jun 00:00</text>
<text x="1220" y="817" fill="#000" stroke="#000" stroke-width="0.2" font-size="9.9" text-anchor="start" textLength="48.0" lengthAdjust="spacingAndGlyphs" class="dt">8 Jun 16:00</text>
<text x="1284" y="817" fill="#000" stroke="#000" stroke-width="0.2" font-size="9.9" text-anchor="start" textLength="48.0" lengthAdjust="spacingAndGlyphs" class="dt">9 Jun 08:00</text>
<defs><pattern id="chk" width="2" height="2" patternUnits="userSpaceOnUse"><rect width="2" height="2" fill="#f0f0f0"/><rect width="1" height="1" fill="#fff"/><rect x="1" y="1" width="1" height="1" fill="#fff"/></pattern>
<linearGradient id="gold" x1="0" y1="0" x2="1" y2="1"><stop offset="0" stop-color="#ffe870"/><stop offset="0.5" stop-color="#e8b820"/><stop offset="1" stop-color="#a86c10"/></linearGradient>
<linearGradient id="cand" x1="0" y1="0" x2="1" y2="0"><stop offset="0" stop-color="#20c020"/><stop offset="0.5" stop-color="#90f090"/><stop offset="1" stop-color="#20c020"/></linearGradient>
<radialGradient id="clk" cx="0.4" cy="0.3" r="0.8"><stop offset="0" stop-color="#40a0ff"/><stop offset="1" stop-color="#0848b0"/></radialGradient>
<linearGradient id="plus" x1="0" y1="0" x2="0" y2="1"><stop offset="0" stop-color="#60e860"/><stop offset="1" stop-color="#00a000"/></linearGradient>
<radialGradient id="redb" cx="0.4" cy="0.35" r="0.8"><stop offset="0" stop-color="#f05040"/><stop offset="1" stop-color="#c81808"/></radialGradient>
<linearGradient id="ringg" x1="0" y1="0" x2="1" y2="0"><stop offset="0" stop-color="#2c5cd4"/><stop offset="0.45" stop-color="#6c94e0" stop-opacity="0.75"/><stop offset="0.75" stop-color="#5c9c8c" stop-opacity="0.7"/><stop offset="1" stop-color="#3a7a6a"/></linearGradient>
</defs>
<g id="toolbar">
<text x="-1.6" y="12.3" font-size="11.8" fill="#000" stroke="#000" stroke-width="0.3" textLength="34.8">新订单</text>
<text x="149.3" y="12.3" font-size="11.8" fill="#000" stroke="#000" stroke-width="0.3" textLength="46.6">自动交易</text>
<polygon points="50.8,2.1 59.8,8.3 60.9,10.6 53,16.8 45.2,10.8 49.4,6.4" fill="url(#gold)" stroke="#a86c10" stroke-width="0.9" stroke-linejoin="round"/>
<polygon points="51.2,3.4 58.8,8.6 52.6,13.8 47.6,10 50.2,6.6" fill="#f6d22c"/>
<polygon points="51.4,4 56,7.2 52,10.6 49.4,8.6 50.8,6.4" fill="#ffe860" opacity="0.8"/>
<polygon points="45.4,10.8 53,16.6 54.2,15.4 46.8,9.8" fill="#d29a1c"/><line x1="46.6" y1="10.6" x2="53.4" y2="15.6" stroke="#f6dc80" stroke-width="0.8"/>
<polygon points="53.6,16 60.4,10.6 60.4,11.6 54,16.8" fill="#d8c890"/>
<polygon points="75.1,1.8 82.1,1.3 86,3.6 86,10.4 75.1,10.4" fill="#1e98ff"/>
<polygon points="75.1,1.8 78.6,4 78.6,10.4 75.1,10.4" fill="#0a86ee"/>
<polygon points="75.1,1.8 82.1,1.3 86,3.6 78.6,4" fill="#4cb0ff"/>
<line x1="75.3" y1="2" x2="78.6" y2="4.1" stroke="#e8f4ff" stroke-width="0.7"/><line x1="78.6" y1="4" x2="78.6" y2="10.4" stroke="#e8f4ff" stroke-width="0.8"/>
<polygon points="80.2,6.4 84.6,5.4 84.6,6.2 80.2,7.2" fill="#fff"/><rect x="80.2" y="8" width="4.4" height="0.8" fill="#a8d8ff"/>
<linearGradient id="cld" x1="0" y1="0" x2="0" y2="1"><stop offset="0" stop-color="#fff"/><stop offset="0.55" stop-color="#f0f3f9"/><stop offset="1" stop-color="#aebad6"/></linearGradient>
<path d="M75.4,16.5 C72.4,16.5 72.6,12.2 75.6,12.2 C76.2,10.8 77.8,10.6 78.8,11.4 C79.6,8.8 83.6,8.8 84.4,11.4 C86.6,10 89.2,12 88.4,14 C89.4,15.4 88.4,16.5 87,16.5 Z" fill="url(#cld)" stroke="#41609c" stroke-width="1"/>
<path d="M109.1,8.8 L109.10,0.90 A7.9,7.9 0 0 1 113.05,1.96 Z" fill="#58b058" opacity="0.12"/><path d="M109.1,8.8 L113.05,1.96 A7.9,7.9 0 0 1 115.94,4.85 Z" fill="#58b058" opacity="0.2"/><path d="M109.1,8.8 L115.94,4.85 A7.9,7.9 0 0 1 117.00,8.80 Z" fill="#58b058" opacity="0.3"/><path d="M109.1,8.8 L117.00,8.80 A7.9,7.9 0 0 1 115.94,12.75 Z" fill="#58b058" opacity="0.42"/><path d="M109.1,8.8 L115.94,12.75 A7.9,7.9 0 0 1 113.05,15.64 Z" fill="#58b058" opacity="0.55"/><path d="M109.1,8.8 L113.05,15.64 A7.9,7.9 0 0 1 109.10,16.70 Z" fill="#58b058" opacity="0.7"/>
<g fill="none" opacity="0.72"><circle cx="109.1" cy="8.8" r="7.5" stroke="url(#ringg)" stroke-width="1.1"/><circle cx="109.1" cy="8.8" r="5.1" stroke="url(#ringg)" stroke-width="1.1"/><circle cx="109.1" cy="8.8" r="2.9" stroke="url(#ringg)" stroke-width="1"/></g>
<line x1="109.4" y1="9" x2="109.4" y2="16.8" stroke="#18a818" stroke-width="1.5"/><circle cx="109" cy="8.6" r="1.9" fill="#2458d4"/>
<linearGradient id="ylw" x1="0" y1="0" x2="1" y2="1"><stop offset="0" stop-color="#fff080"/><stop offset="0.6" stop-color="#f6d640"/><stop offset="1" stop-color="#d89a10"/></linearGradient>
<polygon points="128.2,8.4 143.4,7.2 136.8,16.4" fill="url(#ylw)" stroke="#d0a018" stroke-width="0.7" stroke-linejoin="round"/>
<ellipse cx="136" cy="5.6" rx="7.8" ry="2.5" fill="#52aee6" stroke="#1c7cac" stroke-width="0.8" transform="rotate(-4 136 5.6)"/><ellipse cx="135.7" cy="3.9" rx="3.9" ry="2.9" fill="#6cc0f2" stroke="#1c7cac" stroke-width="0.7"/><ellipse cx="135.9" cy="5.7" rx="5" ry="1.2" fill="#6cc0f2"/><ellipse cx="134.8" cy="3.2" rx="1.8" ry="1.2" fill="#a8dcfa" opacity="0.8"/>
<circle cx="140.5" cy="12.6" r="4.1" fill="url(#redb)" stroke="#b81808" stroke-width="0.6"/><rect x="139.1" y="11.2" width="2.9" height="2.8" fill="#fff"/>
<rect x="204" y="0" width="1" height="19" fill="#a0a0a0" shape-rendering="crispEdges"/>
<rect x="208" y="1" width="3" height="1" fill="#a8a8a8" shape-rendering="crispEdges"/>
<rect x="208" y="3" width="3" height="1" fill="#a8a8a8" shape-rendering="crispEdges"/>
<rect x="208" y="5" width="3" height="1" fill="#a8a8a8" shape-rendering="crispEdges"/>
<rect x="208" y="7" width="3" height="1" fill="#a8a8a8" shape-rendering="crispEdges"/>
<rect x="208" y="9" width="3" height="1" fill="#a8a8a8" shape-rendering="crispEdges"/>
<rect x="208" y="11" width="3" height="1" fill="#a8a8a8" shape-rendering="crispEdges"/>
<rect x="208" y="13" width="3" height="1" fill="#a8a8a8" shape-rendering="crispEdges"/>
<rect x="208" y="15" width="3" height="1" fill="#a8a8a8" shape-rendering="crispEdges"/>
<rect x="208" y="17" width="3" height="1" fill="#a8a8a8" shape-rendering="crispEdges"/>
<g stroke="#555" stroke-width="1.2" fill="none"><line x1="222.4" y1="4" x2="222.4" y2="16.6"/><line x1="220" y1="14.5" x2="233" y2="14.5"/></g>
<polygon points="220.6,5.2 222.4,2.8 224.20000000000002,5.2" fill="#555"/><polygon points="232,12.7 234.2,14.5 232,16.3" fill="#555"/>
<g stroke="#0a8a0a" stroke-width="1.3" fill="none"><line x1="228.5" y1="4.2" x2="228.5" y2="12.8"/><line x1="228.5" y1="5.6" x2="231.2" y2="5.6"/><line x1="225.8" y1="11.4" x2="228.5" y2="11.4"/></g>
<rect x="242" y="0" width="1" height="19" fill="#a0a0a0" shape-rendering="crispEdges"/>
<rect x="243" y="0" width="24" height="19" fill="url(#chk)"/>
<g stroke="#555" stroke-width="1.2" fill="none"><line x1="250.4" y1="4" x2="250.4" y2="16.6"/><line x1="248" y1="14.5" x2="261" y2="14.5"/></g>
<polygon points="248.6,5.2 250.4,2.8 252.20000000000002,5.2" fill="#555"/><polygon points="260,12.7 262.2,14.5 260,16.3" fill="#555"/>
<line x1="256.5" y1="1.2" x2="256.5" y2="12.8" stroke="#0a9a0a" stroke-width="1.3"/><rect x="254.3" y="3.4" width="4.5" height="7.4" fill="url(#cand)" stroke="#08a008" stroke-width="0.9"/>
<g stroke="#555" stroke-width="1.2" fill="none"><line x1="278.4" y1="4" x2="278.4" y2="16.6"/><line x1="276" y1="14.5" x2="289" y2="14.5"/></g>
<polygon points="276.59999999999997,5.2 278.4,2.8 280.2,5.2" fill="#555"/><polygon points="288,12.7 290.2,14.5 288,16.3" fill="#555"/>
<path d="M277,11.6 C279.5,10.5 281.5,6 283.4,6.1 C285.2,6.2 286.5,9 288.8,10.2" fill="none" stroke="#2a9a2a" stroke-width="1.2"/>
<rect x="299" y="0" width="1" height="19" fill="#a0a0a0" shape-rendering="crispEdges"/>
<line x1="317.6" y1="11.2" x2="322.6" y2="15.6" stroke="#b88a10" stroke-width="3.4" stroke-linecap="square"/><line x1="317.9" y1="10.9" x2="322.8" y2="15.2" stroke="#f0d040" stroke-width="1.4"/>
<circle cx="314" cy="7" r="5.6" fill="#d4ecfc" stroke="#2c7cd0" stroke-width="1.2"/>
<rect x="310.6" y="6" width="6.8" height="2" fill="#3c84b4"/>
<rect x="313" y="3.6" width="2" height="6.8" fill="#3c84b4"/>
<line x1="345.70000000000005" y1="11.2" x2="350.70000000000005" y2="15.6" stroke="#b88a10" stroke-width="3.4" stroke-linecap="square"/><line x1="346.0" y1="10.9" x2="350.90000000000003" y2="15.2" stroke="#f0d040" stroke-width="1.4"/>
<circle cx="342.1" cy="7" r="5.6" fill="#d4ecfc" stroke="#2c7cd0" stroke-width="1.2"/>
<rect x="338.70000000000005" y="6" width="6.8" height="2" fill="#3c84b4"/>
<rect x="364" y="1" width="8" height="8" fill="#3a9c1c"/><rect x="365.2" y="4.2" width="5.6" height="3.8" fill="#fff"/><rect x="366.2" y="5.4" width="3.6" height="0.9" fill="#b8e0a0"/><rect x="366.4" y="7.4" width="3.2" height="0.8" fill="#3a9c1c"/><rect x="365.4" y="2.2" width="1" height="0.9" fill="#fff" opacity="0.8"/>
<rect x="372" y="1" width="8" height="8" fill="#2254c8"/><rect x="373.2" y="4.2" width="5.6" height="3.8" fill="#fff"/><rect x="374.2" y="5.4" width="3.6" height="0.9" fill="#a8c0f0"/><rect x="374.4" y="7.4" width="3.2" height="0.8" fill="#2254c8"/><rect x="373.4" y="2.2" width="1" height="0.9" fill="#fff" opacity="0.8"/>
<rect x="364" y="9" width="8" height="8" fill="#2254c8"/><rect x="365.2" y="12.2" width="5.6" height="3.8" fill="#fff"/><rect x="366.2" y="13.4" width="3.6" height="0.9" fill="#a8c0f0"/><rect x="366.4" y="15.4" width="3.2" height="0.8" fill="#2254c8"/><rect x="365.4" y="10.2" width="1" height="0.9" fill="#fff" opacity="0.8"/>
<rect x="372" y="9" width="8" height="8" fill="#3a9c1c"/><rect x="373.2" y="12.2" width="5.6" height="3.8" fill="#fff"/><rect x="374.2" y="13.4" width="3.6" height="0.9" fill="#b8e0a0"/><rect x="374.4" y="15.4" width="3.2" height="0.8" fill="#3a9c1c"/><rect x="373.4" y="10.2" width="1" height="0.9" fill="#fff" opacity="0.8"/>
<rect x="389" y="0" width="1" height="19" fill="#a0a0a0" shape-rendering="crispEdges"/>
<rect x="394" y="0" width="1" height="19" fill="#a0a0a0" shape-rendering="crispEdges"/>
<rect x="395" y="0" width="24" height="19" fill="url(#chk)"/>
<g stroke="#555" stroke-width="1.2" fill="none"><line x1="402.4" y1="4" x2="402.4" y2="16.6"/><line x1="400" y1="14.5" x2="413" y2="14.5"/></g>
<polygon points="400.59999999999997,5.2 402.4,2.8 404.2,5.2" fill="#555"/><polygon points="412,12.7 414.2,14.5 412,16.3" fill="#555"/>
<polygon points="407.2,5.2 407.2,11.8 411,8.5" fill="#70dc70" stroke="#10a010" stroke-width="1"/>
<rect x="422" y="0" width="1" height="19" fill="#a0a0a0" shape-rendering="crispEdges"/>
<rect x="423" y="0" width="24" height="19" fill="url(#chk)"/>
<g stroke="#555" stroke-width="1.2" fill="none"><line x1="430.4" y1="4" x2="430.4" y2="16.6"/><line x1="428" y1="14.5" x2="441" y2="14.5"/></g>
<polygon points="428.59999999999997,5.2 430.4,2.8 432.2,5.2" fill="#555"/><polygon points="440,12.7 442.2,14.5 440,16.3" fill="#555"/>
<line x1="436.6" y1="3" x2="436.6" y2="12.8" stroke="#1a6fa4" stroke-width="1.3"/>
<line x1="438" y1="8.5" x2="442" y2="8.5" stroke="#d04a08" stroke-width="1.2"/><polygon points="437.4,8.5 440.2,6.2 440.2,10.8" fill="#d04a08"/>
<rect x="451" y="0" width="1" height="19" fill="#a0a0a0" shape-rendering="crispEdges"/>
<path d="M462,1.8 h7.6 l3,3 v9.4 h-10.6 z" fill="#fcfcfc" stroke="#909090" stroke-width="0.8"/><path d="M469.6,1.8 v3 h3" fill="#e0e0e0" stroke="#909090" stroke-width="0.6"/>
<path d="M465.4,4.5 q-1.2,0 -1.2,1.4 v5 q0,1.4 1.2,1.4 M464.4,8.4 h1.6" fill="none" stroke="#5a4a30" stroke-width="0.8"/>
<path d="M469.1,7.4 h4.2 v3.6 h3.6 v4.2 h-3.6 v3.6 h-4.2 v-3.6 h-3.6 v-4.2 h3.6 z" fill="url(#plus)" stroke="#089008" stroke-width="0.8"/>
<polygon points="482.8,8 488.2,8 485.5,11.2" fill="#000"/>
<circle cx="506.9" cy="9.1" r="7.7" fill="url(#clk)"/><circle cx="506.9" cy="9.1" r="5.4" fill="#f6f8fc"/>
<g stroke="#222" stroke-width="1" stroke-linecap="round"><line x1="506.9" y1="9.1" x2="506.3" y2="5.3"/><line x1="506.9" y1="9.1" x2="509.4" y2="9.1"/></g>
<g fill="#8a8a8a"><rect x="506.6" y="4.2" width="0.6" height="0.9"/><rect x="506.6" y="13" width="0.8" height="0.9" fill="#5aa0f0"/><rect x="502" y="8.8" width="0.9" height="0.6"/><rect x="511" y="8.8" width="0.9" height="0.6"/></g>
<polygon points="521.8,8 527.1999999999999,8 524.5,11.2" fill="#000"/>
<rect x="538.3" y="2.4" width="15.4" height="13.4" fill="#fff" stroke="#2c6cc0" stroke-width="1"/><rect x="538.8" y="2.9" width="14.4" height="2" fill="#8cc0f4"/><rect x="538.8" y="10.2" width="14.4" height="0.9" fill="#2c6cc0"/>
<polyline points="540.4,8.4 542,8.4 543.6,7.2 545.4,6.4 547,7.4 549,7.4 550.6,6.4 551.8,6.4" fill="none" stroke="#a82008" stroke-width="1.1"/>
<polyline points="541.2,13.6 542.6,13.6 544,12.6 545.6,13.4 547,12.4 548.6,11.4 550,12 551.4,13.4" fill="none" stroke="#10901c" stroke-width="1.1"/>
<polygon points="560.7,8 566.1,8 563.4000000000001,11.2" fill="#000"/>
<rect x="572" y="0" width="1" height="19" fill="#a0a0a0" shape-rendering="crispEdges"/>
<rect x="573" y="0" width="1" height="19" fill="#fff" shape-rendering="crispEdges"/>
<rect x="576" y="1" width="3" height="1" fill="#a8a8a8" shape-rendering="crispEdges"/>
<rect x="576" y="3" width="3" height="1" fill="#a8a8a8" shape-rendering="crispEdges"/>
<rect x="576" y="5" width="3" height="1" fill="#a8a8a8" shape-rendering="crispEdges"/>
<rect x="576" y="7" width="3" height="1" fill="#a8a8a8" shape-rendering="crispEdges"/>
<rect x="576" y="9" width="3" height="1" fill="#a8a8a8" shape-rendering="crispEdges"/>
<rect x="576" y="11" width="3" height="1" fill="#a8a8a8" shape-rendering="crispEdges"/>
<rect x="576" y="13" width="3" height="1" fill="#a8a8a8" shape-rendering="crispEdges"/>
<rect x="576" y="15" width="3" height="1" fill="#a8a8a8" shape-rendering="crispEdges"/>
<rect x="576" y="17" width="3" height="1" fill="#a8a8a8" shape-rendering="crispEdges"/>
<rect x="582" y="0" width="1" height="19" fill="#a0a0a0" shape-rendering="crispEdges"/>
<rect x="583" y="0" width="24" height="19" fill="url(#chk)"/>
<path d="M590.2,2.4 L590.2,13.6 L592.8,11.2 L595.2,16.2 L597,15.4 L594.6,10.4 L598.4,10.2 Z" fill="#3c3c3c"/>
<g stroke="#555" stroke-width="1.1"><line x1="622.5" y1="2" x2="622.5" y2="8"/><line x1="622.5" y1="10.8" x2="622.5" y2="17"/><line x1="615" y1="9.4" x2="621" y2="9.4"/><line x1="624" y1="9.4" x2="630" y2="9.4"/></g><rect x="622" y="9" width="1" height="1" fill="#555"/>
<rect x="639" y="0" width="1" height="19" fill="#a0a0a0" shape-rendering="crispEdges"/>
<g stroke="#555" stroke-width="1.2"><line x1="656.3" y1="3" x2="656.3" y2="16"/><line x1="678.8" y1="9.4" x2="691" y2="9.4"/><line x1="707" y1="16" x2="719" y2="4"/></g>
<g stroke="#555" stroke-width="1" fill="none"><line x1="733" y1="10.6" x2="742.4" y2="3.2"/><line x1="733.6" y1="14.4" x2="746.6" y2="4.4"/><line x1="737.4" y1="15.4" x2="747" y2="8"/><line x1="735" y1="8" x2="736.6" y2="15.2"/><line x1="738" y1="6" x2="739.8" y2="13.4"/><line x1="741" y1="4" x2="742.8" y2="11"/><line x1="744.4" y1="1" x2="745.6" y2="8.6"/></g>
<text x="743.6" y="17.9" font-size="6.4" font-weight="bold" fill="#444">E</text>
<line x1="762.2" y1="2.5" x2="775.4" y2="2.5" stroke="#555" stroke-width="1" stroke-dasharray="1 1"/>
<line x1="762.2" y1="4.9" x2="775.4" y2="4.9" stroke="#555" stroke-width="1" stroke-dasharray="1 1"/>
<line x1="762.2" y1="7.5" x2="775.4" y2="7.5" stroke="#555" stroke-width="1" stroke-dasharray="1 1"/>
<line x1="762.2" y1="9.9" x2="775.4" y2="9.9" stroke="#555" stroke-width="1" stroke-dasharray="1 1"/>
<line x1="762.2" y1="14.1" x2="770.5" y2="14.1" stroke="#555" stroke-width="1" stroke-dasharray="1 1"/>
<text x="771.7" y="17.9" font-size="6.4" font-weight="bold" fill="#444">F</text>
<text x="792.4" y="14" font-size="12.2" font-weight="bold" fill="#555" textLength="8.2" lengthAdjust="spacingAndGlyphs">A</text>
<rect x="818.8" y="2.9" width="11.8" height="12.8" fill="none" stroke="#555" stroke-width="1" stroke-dasharray="1 1"/>
<text x="820.6" y="14" font-size="11.2" font-weight="bold" fill="#555" textLength="8.4" lengthAdjust="spacingAndGlyphs">T</text>
<g fill="#4a4a4a"><polygon points="846.2,6.4 849.2,3 852.2,6.4 849.2,7.8"/><polygon points="853.6,12.4 856.8,11 859.9,12.4 856.8,15.8"/></g><polyline points="848.4,9.6 850.6,11.8 855,6.4" fill="none" stroke="#4a4a4a" stroke-width="1.3"/>
<polygon points="866.8,8 872.1999999999999,8 869.5,11.2" fill="#000"/>
<rect x="878" y="0" width="1" height="19" fill="#a0a0a0" shape-rendering="crispEdges"/>
<rect x="879" y="0" width="1" height="19" fill="#fff" shape-rendering="crispEdges"/>
<rect x="882" y="1" width="3" height="1" fill="#a8a8a8" shape-rendering="crispEdges"/>
<rect x="882" y="3" width="3" height="1" fill="#a8a8a8" shape-rendering="crispEdges"/>
<rect x="882" y="5" width="3" height="1" fill="#a8a8a8" shape-rendering="crispEdges"/>
<rect x="882" y="7" width="3" height="1" fill="#a8a8a8" shape-rendering="crispEdges"/>
<rect x="882" y="9" width="3" height="1" fill="#a8a8a8" shape-rendering="crispEdges"/>
<rect x="882" y="11" width="3" height="1" fill="#a8a8a8" shape-rendering="crispEdges"/>
<rect x="882" y="13" width="3" height="1" fill="#a8a8a8" shape-rendering="crispEdges"/>
<rect x="882" y="15" width="3" height="1" fill="#a8a8a8" shape-rendering="crispEdges"/>
<rect x="882" y="17" width="3" height="1" fill="#a8a8a8" shape-rendering="crispEdges"/>
<rect x="1029" y="0" width="24" height="19" fill="url(#chk)"/>
<rect x="1028" y="0" width="1" height="19" fill="#a0a0a0" shape-rendering="crispEdges"/>
<text x="893.3" y="12.9" font-size="10.1" fill="#3c3c3c" textLength="12.9" lengthAdjust="spacingAndGlyphs">M1</text>
<text x="921.4" y="12.9" font-size="10.1" fill="#3c3c3c" textLength="12.9" lengthAdjust="spacingAndGlyphs">M5</text>
<text x="947.3" y="12.9" font-size="10.1" fill="#3c3c3c" textLength="17.9" lengthAdjust="spacingAndGlyphs">M15</text>
<text x="975.4" y="12.9" font-size="10.1" fill="#3c3c3c" textLength="17.9" lengthAdjust="spacingAndGlyphs">M30</text>
<text x="1006.3" y="12.9" font-size="10.1" fill="#3c3c3c" textLength="11.9" lengthAdjust="spacingAndGlyphs">H1</text>
<text x="1033.6" y="12.9" font-size="10.1" fill="#3c3c3c" textLength="12.6" lengthAdjust="spacingAndGlyphs">H4</text>
<text x="1062.3" y="12.9" font-size="10.1" fill="#3c3c3c" textLength="11.9" lengthAdjust="spacingAndGlyphs">D1</text>
<text x="1089.8" y="12.9" font-size="10.1" fill="#3c3c3c" textLength="14.2" lengthAdjust="spacingAndGlyphs">W1</text>
<text x="1116.7" y="12.9" font-size="10.1" fill="#3c3c3c" textLength="14.5" lengthAdjust="spacingAndGlyphs">MN</text>
<rect x="1139" y="0" width="1" height="20" fill="#a0a0a0" shape-rendering="crispEdges"/>
<circle cx="1610.2" cy="6.4" r="3.7" fill="#f6f9ff" stroke="#2a5cc8" stroke-width="1.1"/><line x1="1607.2" y1="9.2" x2="1602" y2="13.8" stroke="#2456c8" stroke-width="2.4" stroke-linecap="round"/>
<linearGradient id="bub" x1="0" y1="0" x2="0" y2="1"><stop offset="0" stop-color="#fafafa"/><stop offset="1" stop-color="#d4d8e2"/></linearGradient>
<path d="M1626.2,11.4 a6,4.5 0 1 1 6,4.5 l-2.8,1.8 l0.4,-2.2 a6,4.5 0 0 1 -3.6,-4.1 z" fill="url(#bub)" stroke="#a4a4a4" stroke-width="0.9"/>
<linearGradient id="bdg" x1="0" y1="0" x2="0" y2="1"><stop offset="0" stop-color="#e84a2c"/><stop offset="1" stop-color="#c81406"/></linearGradient>
<circle cx="1640.5" cy="6.3" r="8.2" fill="url(#bdg)"/>
<text x="1639.6" y="10.9" font-size="12" fill="#fff" text-anchor="middle">1</text>
</g>
</svg>
</body></html>
